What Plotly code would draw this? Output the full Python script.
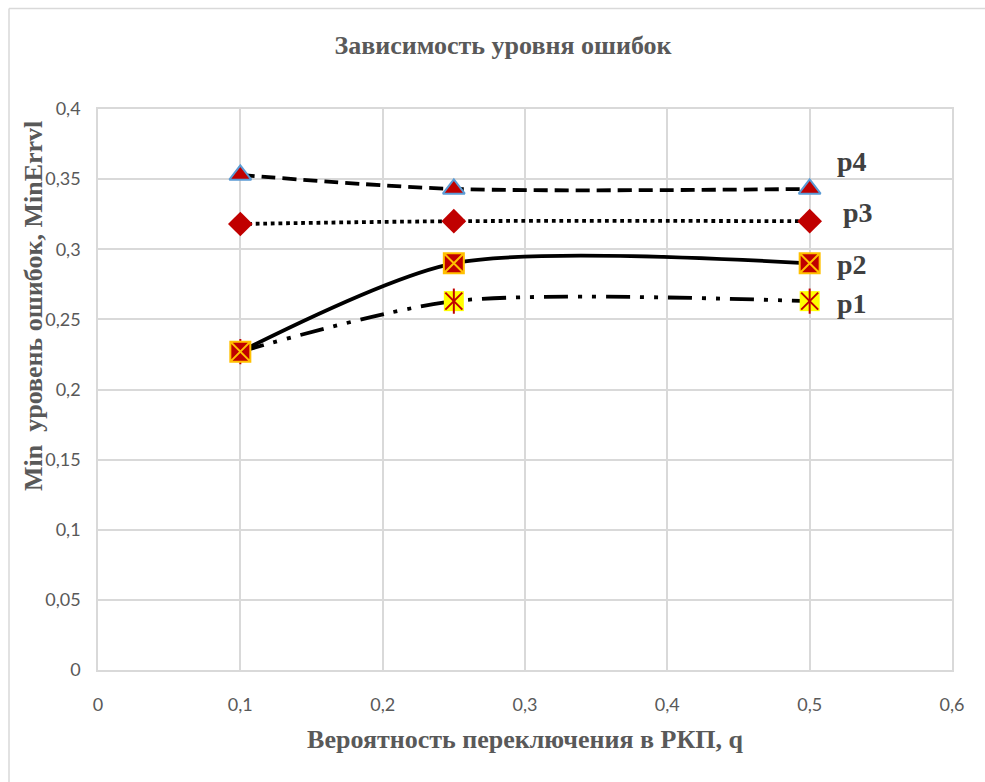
import plotly.graph_objects as go

q = [0.1, 0.25, 0.5]
p1 = [0.227, 0.263, 0.263]
p2 = [0.227, 0.290, 0.290]
p3 = [0.318, 0.320, 0.320]
p4 = [0.353, 0.343, 0.343]
series_names = ["p1", "p2", "p3", "p4"]
x_ticks = [0, 0.1, 0.2, 0.3, 0.4, 0.5, 0.6]
x_tick_text = ["0", "0,1", "0,2", "0,3", "0,4", "0,5", "0,6"]
y_ticks = [0, 0.05, 0.1, 0.15, 0.2, 0.25, 0.3, 0.35, 0.4]
y_tick_text = ["0", "0,05", "0,1", "0,15", "0,2", "0,25", "0,3", "0,35", "0,4"]

RED = "#C00000"
LW = 3.8
fig = go.Figure()

# p1 line + markers
fig.add_trace(go.Scatter(x=q, y=p1, mode="lines", line=dict(color="black", width=LW, shape="spline", smoothing=0.75,
                         dash="24px,10px,4px,10px,4px,10px"), showlegend=False, hoverinfo="skip"))
fig.add_trace(go.Scatter(x=q, y=p1, mode="markers", marker=dict(symbol="square", size=20, color="#FFFF00",
                         line=dict(width=0)), showlegend=False, name="p1"))
fig.add_trace(go.Scatter(x=q, y=p1, mode="markers", marker=dict(symbol="x-thin-open", size=17, color=RED,
                         line=dict(width=2, color=RED)), showlegend=False, hoverinfo="skip"))
fig.add_trace(go.Scatter(x=q, y=p1, mode="markers", marker=dict(symbol="line-ns-open", size=18, color=RED,
                         line=dict(width=2, color=RED)), showlegend=False, hoverinfo="skip"))

# p2
fig.add_trace(go.Scatter(x=q, y=p2, mode="lines+markers", name="p2",
                         line=dict(color="black", width=LW, shape="spline", smoothing=0.75),
                         marker=dict(symbol="square-x", size=20, color=RED, line=dict(width=2, color="#FFC000")),
                         showlegend=False))
# p3
fig.add_trace(go.Scatter(x=q, y=p3, mode="lines+markers", name="p3",
                         line=dict(color="black", width=LW, shape="spline", dash="dot"),
                         marker=dict(symbol="diamond", size=19, color=RED, line=dict(width=0)),
                         showlegend=False))
# p4
fig.add_trace(go.Scatter(x=q, y=p4, mode="lines+markers", name="p4",
                         line=dict(color="black", width=LW, shape="spline", smoothing=0.8, dash="14px,7px"),
                         marker=dict(symbol="triangle-up", size=19, color=RED, line=dict(width=2, color="#5B9BD5")),
                         showlegend=False))

label_font = dict(family="Liberation Serif", size=28, color="#404040")
label_pos = {"p4": (0.5, p4[-1], 42, -27), "p3": (0.5, p3[-1], 48, -9),
             "p2": (0.5, p2[-1], 42, 1), "p1": (0.5, p1[-1], 42, 2)}
for name in series_names:
    x0, y0, dx, dy = label_pos[name]
    fig.add_annotation(x=x0, y=y0, xref="x", yref="y", text="<b>%s</b>" % name, showarrow=False,
                       xshift=dx, yshift=-dy, font=label_font)

# y title
fig.add_annotation(xref="paper", yref="paper", x=(33 - 98) / 854, y=(670 - 306) / 561,
                   xanchor="center", yanchor="middle",
                   text="<b>Min  уровень ошибок, MinErrvl</b>", textangle=-90, showarrow=False,
                   font=dict(family="Liberation Serif", size=26, color="#595959"))

# outer border
fig.add_shape(type="line", xref="paper", yref="paper", x0=(9 - 98) / 854, x1=2, y0=(670 - 8.5) / 561,
              y1=(670 - 8.5) / 561, line=dict(color="#D9D9D9", width=1.5))
fig.add_shape(type="line", xref="paper", yref="paper", x0=(9 - 98) / 854, x1=(9 - 98) / 854,
              y0=(670 - 8.5) / 561, y1=-2, line=dict(color="#D9D9D9", width=1.5))

fig.update_layout(
    width=985, height=782,
    margin=dict(l=98, r=33, t=109, b=112),
    paper_bgcolor="white", plot_bgcolor="white",
    title=dict(text="<b>Зависимость уровня ошибок</b>", x=(503) / 985, xanchor="center",
               y=1 - 45 / 782, yanchor="middle",
               font=dict(family="Liberation Serif", size=26, color="#595959")),
    xaxis=dict(range=[0, 0.6], tickvals=x_ticks, ticktext=x_tick_text, showgrid=True,
               gridcolor="#D9D9D9", gridwidth=1.5, zeroline=False, showline=True, linecolor="#D9D9D9",
               linewidth=1.5, mirror=True, ticks="", ticklabelstandoff=18,
               tickfont=dict(family="Lato", size=18, color="#595959"),
               title=dict(text="<b>Вероятность переключения в РКП, q</b>", standoff=15,
                          font=dict(family="Liberation Serif", size=26, color="#595959"))),
    yaxis=dict(range=[0, 0.4], tickvals=y_ticks, ticktext=y_tick_text, showgrid=True,
               gridcolor="#D9D9D9", gridwidth=1.5, zeroline=False, showline=True, linecolor="#D9D9D9",
               linewidth=1.5, mirror=True, ticks="", ticklabelstandoff=12,
               tickfont=dict(family="Lato", size=18, color="#595959")),
)

fig.write_html("out.html")
